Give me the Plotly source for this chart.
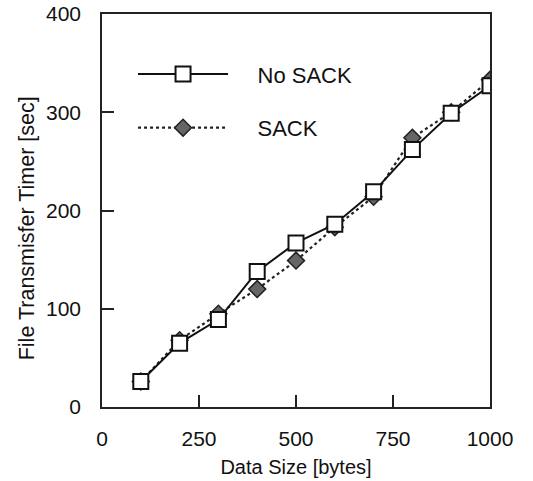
import plotly.graph_objects as go

data_size = [100, 200, 300, 400, 500, 600, 700, 800, 900, 1000]
no_sack = [26, 65, 89, 138, 167, 186, 219, 262, 299, 327]
sack = [26, 68, 95, 120, 149, 183, 214, 274, 300, 333]

x_ticks = [0, 250, 500, 750, 1000]
y_ticks = [0, 100, 200, 300, 400]

FONT = "Liberation Sans, Arial, sans-serif"

fig = go.Figure()
fig.add_trace(go.Scatter(
    x=data_size, y=sack, name="    SACK", mode="lines+markers",
    legendgroup="b", legendrank=2,
    line=dict(color="#222", width=2.2, dash="dot"),
    marker=dict(symbol="diamond", size=13, color="#666",
                line=dict(color="#222", width=1.5)),
))
fig.add_trace(go.Scatter(
    x=data_size, y=no_sack, name="    No SACK", mode="lines+markers",
    legendgroup="a", legendrank=1,
    line=dict(color="#111", width=2),
    marker=dict(symbol="square", size=15, color="white",
                line=dict(color="#111", width=2)),
))

axis_common = dict(
    showline=True, linecolor="#222", linewidth=1.5, mirror=True,
    ticks="inside", ticklen=12, tickwidth=1.5, tickcolor="#222",
    showgrid=False, zeroline=False, automargin=False,
    tickfont=dict(family=FONT, size=21, color="#111"),
)

fig.update_layout(
    width=533, height=481,
    margin=dict(l=102, r=43, t=14, b=74),
    paper_bgcolor="white", plot_bgcolor="white",
    font=dict(family=FONT, color="#111"),
    showlegend=True,
    legend=dict(
        x=0.08, y=0.90, xanchor="left", yanchor="top",
        bgcolor="rgba(0,0,0,0)", borderwidth=0,
        itemwidth=90, traceorder="grouped", tracegroupgap=22,
        font=dict(family=FONT, size=22, color="#111"),
    ),
    annotations=[dict(
        text="File Transmisfer Timer [sec]", textangle=-90,
        xref="paper", yref="paper", x=-0.193, y=0.455,
        xanchor="center", yanchor="middle", showarrow=False,
        font=dict(family=FONT, size=21.5, color="#111"),
    )],
)
fig.update_xaxes(range=[0, 1000], tickvals=x_ticks, ticklabelstandoff=12,
                 title=dict(text="Data Size [bytes]", standoff=11,
                            font=dict(family=FONT, size=20, color="#111")),
                 **axis_common)
fig.update_yaxes(range=[0, 400], tickvals=y_ticks, ticklabelstandoff=15,
                 **axis_common)

fig.write_html("out.html", config={"displayModeBar": False},
               post_script="document.body.style.margin='0';")
